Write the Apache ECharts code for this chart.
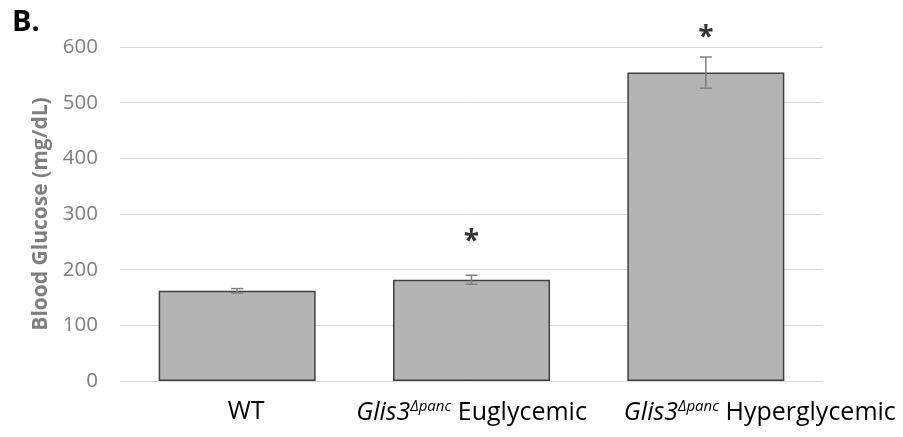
<!DOCTYPE html>
<html><head><meta charset="utf-8">
<script src="https://cdn.jsdelivr.net/npm/echarts@6/dist/echarts.min.js"></script>
<style>html,body{margin:0;padding:0;background:#fff}#c{width:903px;height:437px}</style>
</head><body><div id="c"></div>
<script>
const categories = ['WT', 'Glis3 Euglycemic', 'Glis3 Hyperglycemic'];
const meanValues = [162, 182, 554];
const errorValues = [4, 8, 28];
const starLevels = [null, 249, 616];
const yTicks = [0, 100, 200, 300, 400, 500, 600];

const chart = echarts.init(document.getElementById('c'));
const FONT = 'Open Sans';
const labelShift = [18, 0, 108];
chart.setOption({
  animation: false,
  graphic: [{type: 'text', left: 12, top: 8, style: {text: 'B.', font: 'bold 29px "Open Sans"', fill: '#000'}}],
  grid: {left: 120, right: 80, top: 47, bottom: 56},
  xAxis: {
    type: 'category', data: categories,
    axisLine: {show: false}, axisTick: {show: false},
    axisLabel: {
      margin: 18, interval: 0,
      formatter: function (v, i) {
        if (i === 0) return '{wt|WT}';
        const parts = v.split(' ');
        return '{it' + i + '|Glis3}{sup|Δpanc}{n| ' + parts[1] + '}';
      },
      rich: {
        n: {fontFamily: FONT, fontSize: 25, color: '#000'},
        wt: {fontFamily: FONT, fontSize: 25, color: '#000', padding: [0, 0, 0, labelShift[0]]},
        it1: {fontFamily: FONT, fontSize: 25, fontStyle: 'italic', color: '#000', padding: [0, 0, 0, labelShift[1]]},
        it2: {fontFamily: FONT, fontSize: 25, fontStyle: 'italic', color: '#000', padding: [0, 0, 0, labelShift[2]]},
        sup: {fontFamily: FONT, fontSize: 15, fontStyle: 'italic', color: '#000', verticalAlign: 'top', padding: [0, 0, 12, 0]}
      }
    }
  },
  yAxis: {
    type: 'value', min: 0, max: 600, interval: 100,
    name: 'Blood Glucose (mg/dL)', nameLocation: 'middle', nameGap: 68,
    nameTextStyle: {fontFamily: FONT, fontSize: 21, fontWeight: 'bold', color: '#7f7f7f'},
    axisLabel: {margin: 22, fontFamily: FONT, fontSize: 20.5, color: '#7f7f7f',
      formatter: v => yTicks.includes(v) ? String(v) : ''},
    splitLine: {lineStyle: {color: '#d9d9d9', width: 1}},
    axisLine: {show: false}, axisTick: {show: false}
  },
  series: [
    {
      type: 'bar', data: meanValues, barCategoryGap: '33%',
      itemStyle: {color: '#b4b4b4', borderColor: '#404040', borderWidth: 1.5}
    },
    {
      type: 'custom',
      data: meanValues.map((m, i) => [i, m - errorValues[i], m + errorValues[i]]),
      renderItem: function (params, api) {
        const lo = api.coord([api.value(0), api.value(1)]);
        const hi = api.coord([api.value(0), api.value(2)]);
        const w = 6;
        const st = {stroke: '#7f7f7f', lineWidth: 1.5};
        return {type: 'group', children: [
          {type: 'line', shape: {x1: lo[0], y1: lo[1], x2: hi[0], y2: hi[1]}, style: st},
          {type: 'line', shape: {x1: lo[0] - w, y1: lo[1], x2: lo[0] + w, y2: lo[1]}, style: st},
          {type: 'line', shape: {x1: hi[0] - w, y1: hi[1], x2: hi[0] + w, y2: hi[1]}, style: st}
        ]};
      },
      z: 5
    },
    {
      type: 'scatter', data: starLevels, symbolSize: 0, clip: false,
      label: {show: true, position: 'inside', formatter: '*', fontFamily: FONT, fontSize: 28, fontWeight: 'bold', color: '#000'},
      z: 6
    }
  ]
});
</script></body></html>
